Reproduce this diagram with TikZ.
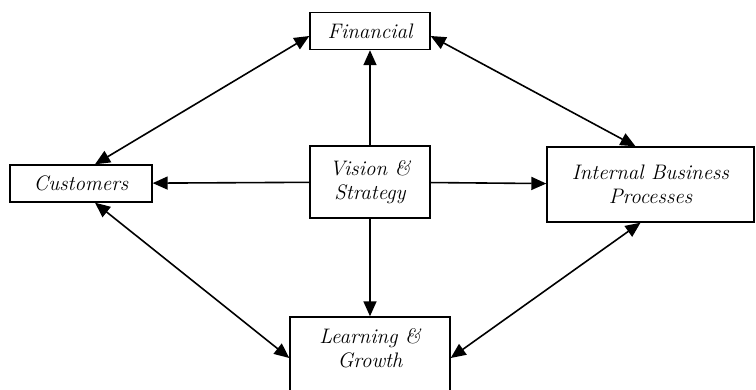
\documentclass[tikz,border=0pt]{standalone}
\usepackage{tikz}
\usetikzlibrary{arrows.meta}

\begin{document}
\begin{tikzpicture}[x=1pt, y=-1pt,
     every node/.style={rectangle, draw, line width=1.4pt, align=center, inner sep=2pt,
       font=\fontsize{21}{24}\selectfont\itshape},
     link/.style={line width=1.6pt, -{Triangle[length=15pt,width=13pt]}},
     both/.style={line width=1.6pt, {Triangle[length=15pt,width=13pt]}-{Triangle[length=15pt,width=13pt]}}]
     \useasboundingbox (0,0) rectangle (756,389);
     \node[minimum width=120pt, minimum height=37pt] (fin) at (370,31) {Financial};
     \node[minimum width=142pt, minimum height=37pt] (cust) at (81,183.5) {Customers};
     \node[minimum width=120pt, minimum height=72pt] (vis) at (370,182) {Vision \&\\Strategy};
     \node[minimum width=207pt, minimum height=75pt] (ibp) at (650.5,184.5) {Internal Business\\Processes};
     \node[minimum width=160pt, minimum height=76pt, text depth=14pt] (learn) at (370,355) {Learning \&\\Growth};

     \draw[link] (vis) -- (fin);
     \draw[link] (vis) -- (cust);
     \draw[link] (vis) -- (ibp);
     \draw[link] (vis) -- (learn);
     \draw[both] ([xshift=14pt]cust.north) -- ([yshift=-5pt]fin.west);
     \draw[both] ([yshift=-5pt]fin.east) -- ([xshift=-15pt]ibp.north);
     \draw[both] ([xshift=14pt]cust.south) -- ([yshift=-3pt]learn.west);
     \draw[both] ([yshift=-3pt]learn.east) -- ([xshift=-10pt]ibp.south);
\end{tikzpicture}
\end{document}
